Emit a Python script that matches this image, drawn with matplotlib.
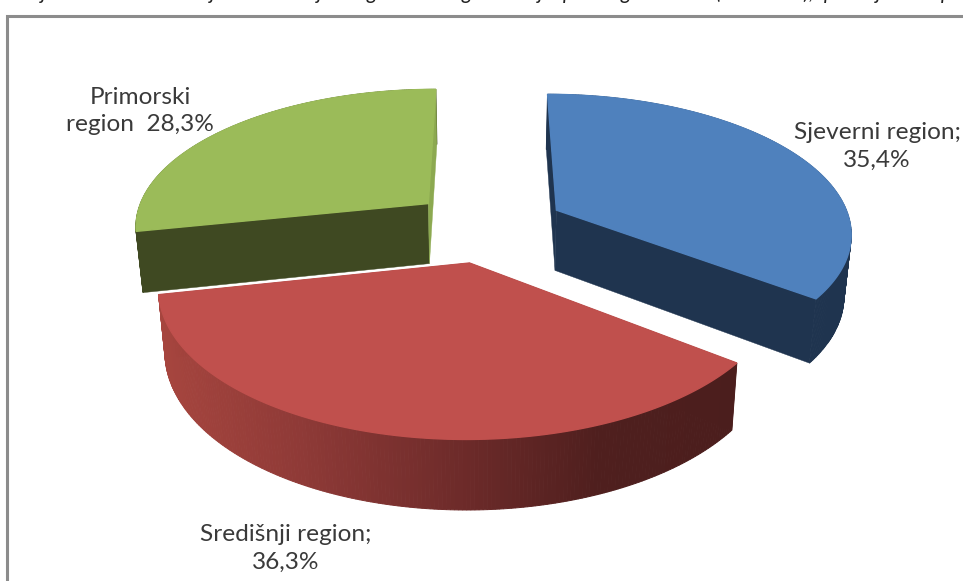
import numpy as np
import matplotlib
matplotlib.use('Agg')
import matplotlib.pyplot as plt
from matplotlib.patches import Polygon
from matplotlib.colors import to_rgb

regions = ['Sjeverni region', 'Središnji region', 'Primorski region']
shares = [35.4, 36.3, 28.3]
labels = ['Sjeverni region;\n35,4%', 'Središnji region;\n36,3%', 'Primorski\nregion  28,3%']
clipped_letters = ['j', 'j', 'j', 'g', 'g', 'j', 'p', 'g', '(', ')', ',', 'p', 'j', 'p']

top_colors = ['#4F81BD', '#C0504D', '#9BBB59']
side_colors = ['#1F344F', '#4C1E1D', '#3F4922']
far_face_colors = ['#1F344F', '#4C1E1D', '#8CA950']

# shading of the red rim, left to right
rim_x = [150, 300, 460, 600, 740]
rim_rgb = np.array([to_rgb(c) for c in ['#A8463F', '#8F3A37', '#6E2B2A', '#4F1F1E', '#4B1E1D']])

# view of the tilted pie
cx, cy = 487.5, 226
scale_x, scale_y = 295, 137.6
persp = 0.15
explode = 0.265


def project(u, v, lower=False):
    w = 1 + persp * v
    px = scale_x * u / w
    py = -scale_y * v / w
    if lower:
        return cx + 0.98 * px, cy + py + 20 + 41 / w
    return cx + px, cy + py


def cut_face(ou, ov, angle):
    eu, ev = ou + np.sin(angle), ov + np.cos(angle)
    return [project(ou, ov), project(eu, ev), project(eu, ev, True), project(ou, ov, True)]


fig = plt.figure(figsize=(9.63, 5.81), dpi=100)
ax = fig.add_axes([0, 0, 1, 1])
ax.axis('off')

# frame of the pasted chart, only top and left are in the crop
ax.plot([7, 7, 963], [581, 15.5, 15.5], color='#8C8C8C', lw=2.2, solid_joinstyle='miter', zorder=1)

edges = np.radians(np.cumsum([0] + shares) * 3.6)

for i, z in [(2, 2), (0, 3), (1, 4)]:
    a0, a1 = edges[i], edges[i + 1]
    mid = (a0 + a1) / 2
    ou, ov = explode * np.sin(mid), explode * np.cos(mid)
    t = np.linspace(a0, a1, 200)
    us = ou + np.sin(t)
    vs = ov + np.cos(t)

    # cut faces on the near side go under the rim
    for end in (a0, a1):
        if np.cos(end) < 0.5:
            ax.add_patch(Polygon(cut_face(ou, ov, end), closed=True, fc=side_colors[i], ec=side_colors[i], lw=0.3, zorder=z))

    upper = [project(a, b) for a, b in zip(us, vs)]
    under = [project(a, b, True) for a, b in zip(us, vs)]
    # rim in narrow strips, only the red one is shaded
    for k in range(len(t) - 1):
        col = side_colors[i]
        if i == 1:
            col = [np.interp(upper[k][0], rim_x, rim_rgb[:, c]) for c in range(3)]
        ax.add_patch(Polygon([upper[k], upper[k + 1], under[k + 1], under[k]], closed=True, fc=col, ec=col, lw=0.7, zorder=z))

    # back cut face shows as a thin sliver beside the top
    for end in (a0, a1):
        if np.cos(end) >= 0.5:
            ax.add_patch(Polygon(cut_face(ou, ov, end), closed=True, fc=far_face_colors[i], ec=far_face_colors[i], lw=0.3, zorder=z))

    top = [project(ou, ov)] + upper
    ax.add_patch(Polygon(top, closed=True, fc=top_colors[i], ec=top_colors[i], lw=1.0, zorder=z + 0.5))

ax.set_xlim(0, 963)
ax.set_ylim(581, 0)

text_kw = dict(family='Lato', fontsize=17.6, color='#3A3A3A', ha='center', va='center', linespacing=1.41, zorder=6)
ax.text(877, 146, labels[0], **text_kw)
ax.text(286, 548, labels[1], **text_kw)
ax.text(140, 111, labels[2], **text_kw)

# bottom of the sentence above the chart, cut by the crop
letter_x = [43, 212, 319, 372, 467, 540, 568, 626, 718, 806, 811, 829, 878, 946]
for s, x in zip(clipped_letters, letter_x):
    ax.text(x, -1, s, family='Lato', style='italic', fontsize=15, color='#222222', ha='center', va='baseline')

fig.savefig('out.png', dpi=100)
